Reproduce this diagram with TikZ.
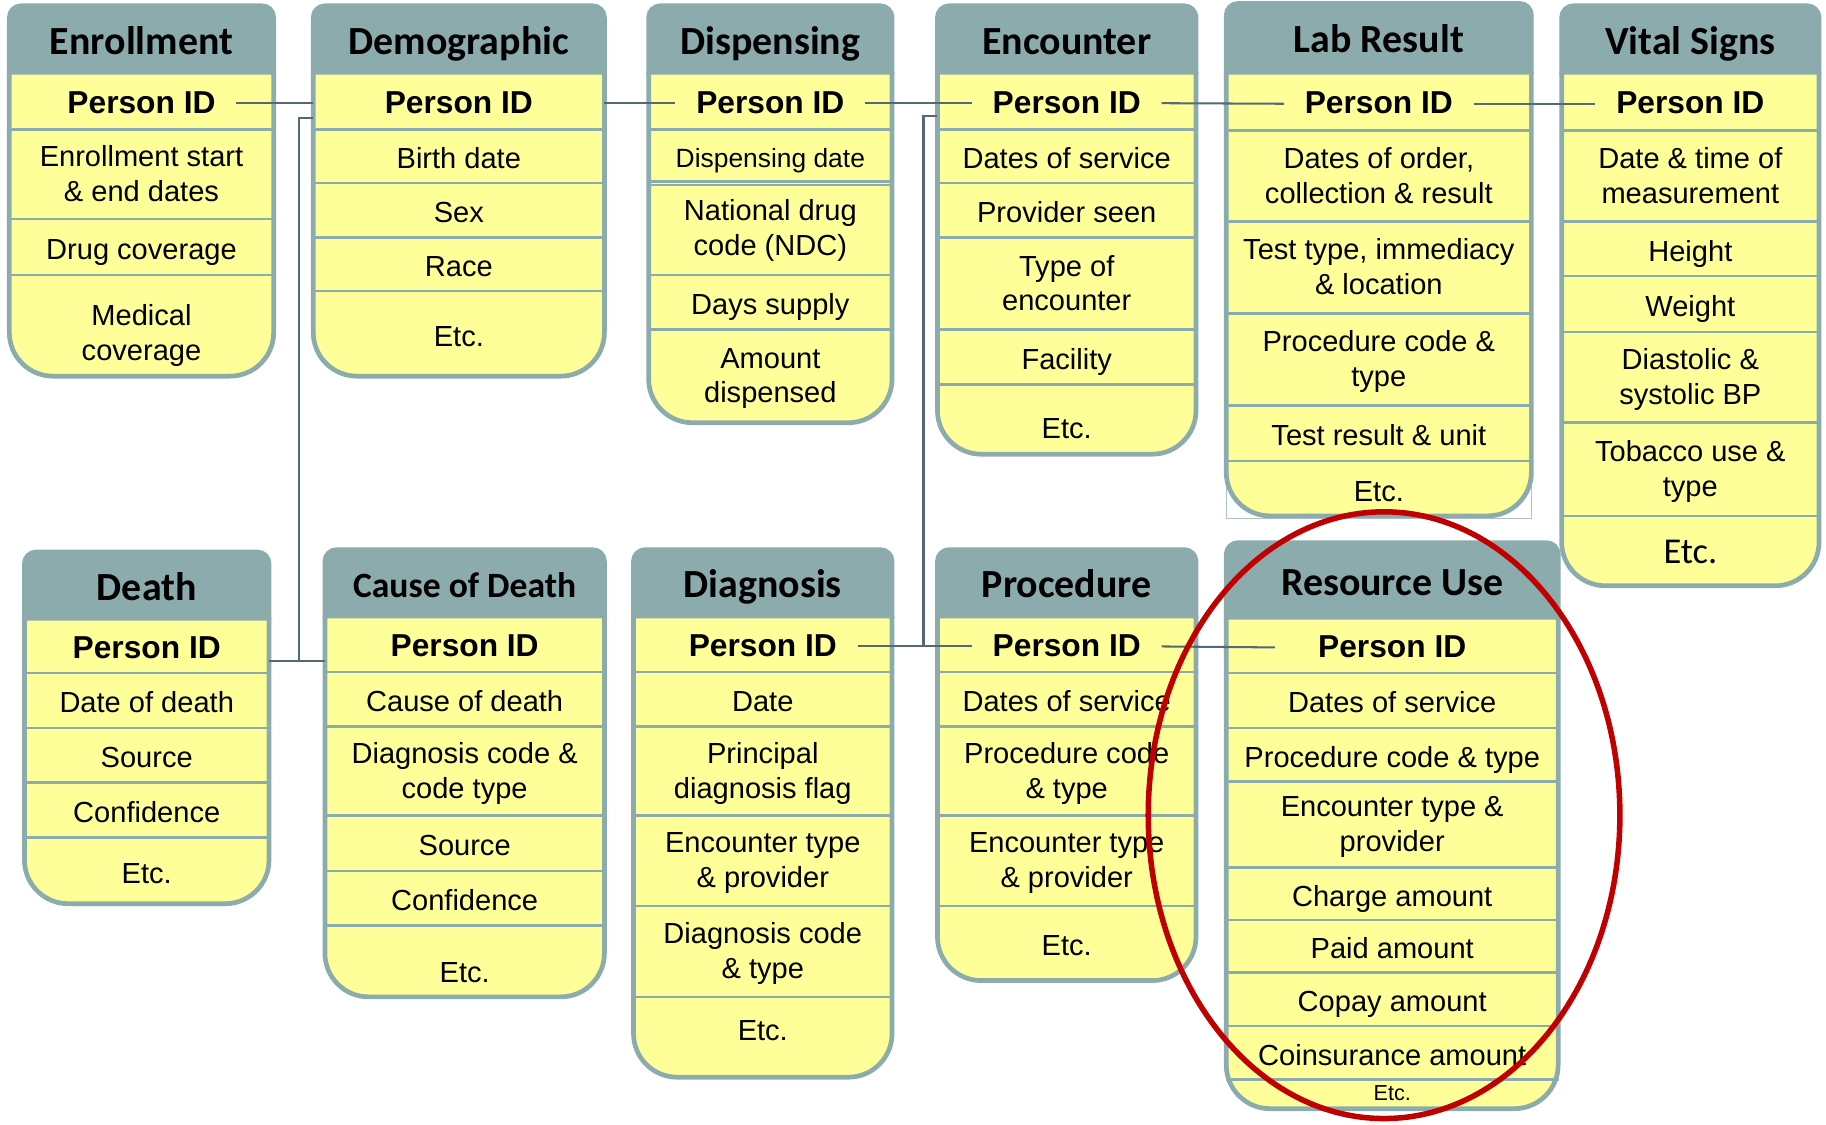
\documentclass[tikz,border=0pt]{standalone}
\usepackage{fontspec}
\setmainfont{Liberation Sans}
\newfontfamily\hdrfamily{Carlito}
\usepackage{tikz}
\definecolor{tblteal}{RGB}{140,171,173}
\definecolor{cellyellow}{RGB}{255,255,153}
\definecolor{linkgray}{RGB}{84,104,118}
\definecolor{markred}{RGB}{192,0,0}
\newcommand{\cellfont}{\fontsize{14.2}{17}\selectfont}
\newcommand{\cellstrut}{\rule[-0.212em]{0pt}{1.117em}}
\newcommand{\pidfont}{\fontsize{15.5}{18}\selectfont\bfseries}
\newcommand{\hdrfont}{\hdrfamily\bfseries\fontsize{19.5}{22}\selectfont}
\tikzstyle{tblframe} = [draw=tblteal, line width=2.3pt, rounded corners=0.75cm]
\tikzstyle{tblhead} = [fill=tblteal, draw=tblteal, line width=2.3pt, rounded corners=0.2cm]
\tikzstyle{rowline} = [draw=tblteal, line width=1.3pt]
\tikzstyle{headtxt} = [anchor=base, font=\hdrfont, inner sep=0pt]
\tikzstyle{celltxt} = [align=center, font=\cellfont, inner xsep=10pt, inner ysep=1pt, yshift=-1.2pt,
  execute at begin node=\cellstrut, execute at end node=\cellstrut]
\tikzstyle{link} = [draw=linkgray, line width=1pt]
\tikzstyle{ghost} = [draw=tblteal!70, line width=0.5pt]
\tikzstyle{hilite} = [draw=markred, line width=2.7pt]
% table: name, left, right, top, header bottom, bottom, title, rows (bottom/text)
\newcommand{\dbtable}[8]{%
  \coordinate (#1-nw) at (#2,#4);
  \coordinate (#1-se) at (#3,#6);
  \path[fill=cellyellow, rounded corners=0.75cm] (#2,#5) -- (#2,#6) -- (#3,#6) -- (#3,#5);
  \foreach \yb/\txt [count=\i, remember=\yb as \ya (initially #5)] in {#8}{
    \ifnum\i>1 \draw[rowline] (#2,\ya) -- (#3,\ya); \fi
    \node (#1-\i) [celltxt] at ({(#2+#3)/2},{(\ya+\yb)/2}) {\txt};
  }
  \draw[tblframe] (#2,#5) -- (#2,#6) -- (#3,#6) -- (#3,#5);
  \path[tblhead] (#2,#5+2) -- (#2,#4) -- (#3,#4) -- (#3,#5+2);
  \node (#1-h) [headtxt] at ({(#2+#3)/2},{(#4+#5)/2+13}) {#7};
}
\begin{document}
\begin{tikzpicture}[x=0.02cm, y=-0.02cm]
        \path[use as bounding box, fill=white] (0,0) rectangle (1568,966);
        \draw[ghost] (1053,300) rectangle (1315,445);
        \draw[ghost] (1053,700) rectangle (1338,928);
        % Top row
        \dbtable{enr}{8}{235}{5}{62}{323}{Enrollment}{111/{\pidfont Person ID}, 188/{Enrollment start\\\& end dates}, 236/Drug coverage, 336/{Medical\\coverage}}
        \dbtable{dem}{269}{519}{5}{62}{323}{Demographic}{111/{\pidfont Person ID}, 157/Birth date, 204/Sex, 250/Race, 323/Etc.}
        \dbtable{disp}{557}{766}{5}{62}{363}{Dispensing}{111/{\pidfont Person ID}, 156/{\fontsize{12.9}{15}\selectfont Dispensing date}, 236/{National drug\\code (NDC)}, 283/Days supply, 363/{Amount\\dispensed}}
        \draw[rowline] (557,159) -- (766,159);
        \dbtable{enc}{805}{1027}{5}{62}{390}{Encounter}{111/{\pidfont Person ID}, 157/Dates of service, 204/Provider seen, 283/{Type of\\encounter}, 330/Facility, 402/Etc.}
        \dbtable{lab}{1053}{1315}{3}{62}{443}{Lab Result}{112/{\pidfont Person ID}, 190/{Dates of order,\\collection \& result}, 269/{Test type, immediacy\\\& location}, 348/{Procedure code \&\\type}, 396/Test result \& unit, 443/Etc.}
        \dbtable{vit}{1341}{1562}{5}{62}{503}{Vital Signs}{112/{\pidfont Person ID}, 190/{Date \& time of\\measurement}, 237/Height, 285/Weight, 363/{Diastolic \&\\systolic BP}, 443/{Tobacco use \&\\type}, 503/{\hdrfamily\fontsize{17.8}{20}\selectfont Etc.}}
        % Bottom row
        \dbtable{dth}{21}{231}{474}{531}{776}{Death}{578/{\pidfont Person ID}, 625/Date of death, 672/Source, 719/Confidence, 776/Etc.}
        \dbtable{cod}{279}{519}{472}{529}{856}{{\fontsize{17.4}{20}\selectfont Cause of Death}}{577/{\pidfont Person ID}, 624/Cause of death, 700/{Diagnosis code \&\\code type}, 748/Source, 795/Confidence, 871/Etc.}
        \dbtable{diag}{544}{766}{472}{529}{925}{Diagnosis}{577/{\pidfont Person ID}, 624/Date, 700/{Principal\\diagnosis flag}, 778/{Encounter type\\\& provider}, 856/{Diagnosis code\\\& type}, 909/Etc.}
        \dbtable{proc}{805}{1027}{472}{529}{842}{Procedure}{577/{\pidfont Person ID}, 624/Dates of service, 700/{Procedure code\\\& type}, 778/{Encounter type\\\& provider}, 842/Etc.}
        \dbtable{res}{1053}{1338}{466}{530}{952}{Resource Use}{578/{\pidfont Person ID}, 625/Dates of service, 671/Procedure code \& type, 745/{Encounter type \&\\provider}, 790/Charge amount, 835/Paid amount, 881/Copay amount, 927/Coinsurance amount, 942/{\fontsize{10.6}{12}\selectfont Etc.}}
        % Links
        \coordinate (demTie) at (257,101);
        \coordinate (dthTie) at (257,568);
        \coordinate (encTie) at (793,100);
        \path [link] (enr-1.east) -- (enr-1 -| dem-nw);
        \path [link] (dem-1 -| dem-se) -- (disp-1.west);
        \path [link] (disp-1.east) -- (enc-1.west);
        \path [link] (enc-1.east) -- (lab-1.west);
        \path [link] (lab-1.east) -- (vit-1.west);
        \path [link] (demTie -| dem-nw) -- (demTie) -- (dthTie);
        \path [link] (dthTie -| dth-se) -- (dthTie -| cod-nw);
        \path [link] (encTie -| enc-nw) -- (encTie) -- (encTie |- diag-1);
        \path [link] (diag-1.east) -- (proc-1.west);
        \path [link, shorten >=11pt] (proc-1.east) -- (res-1.west);
        % Highlight
        \coordinate (ruMark) at (1188.5,700);
        \draw[hilite] (ruMark) ellipse [x radius=202.5, y radius=260.5];
\end{tikzpicture}
\end{document}
